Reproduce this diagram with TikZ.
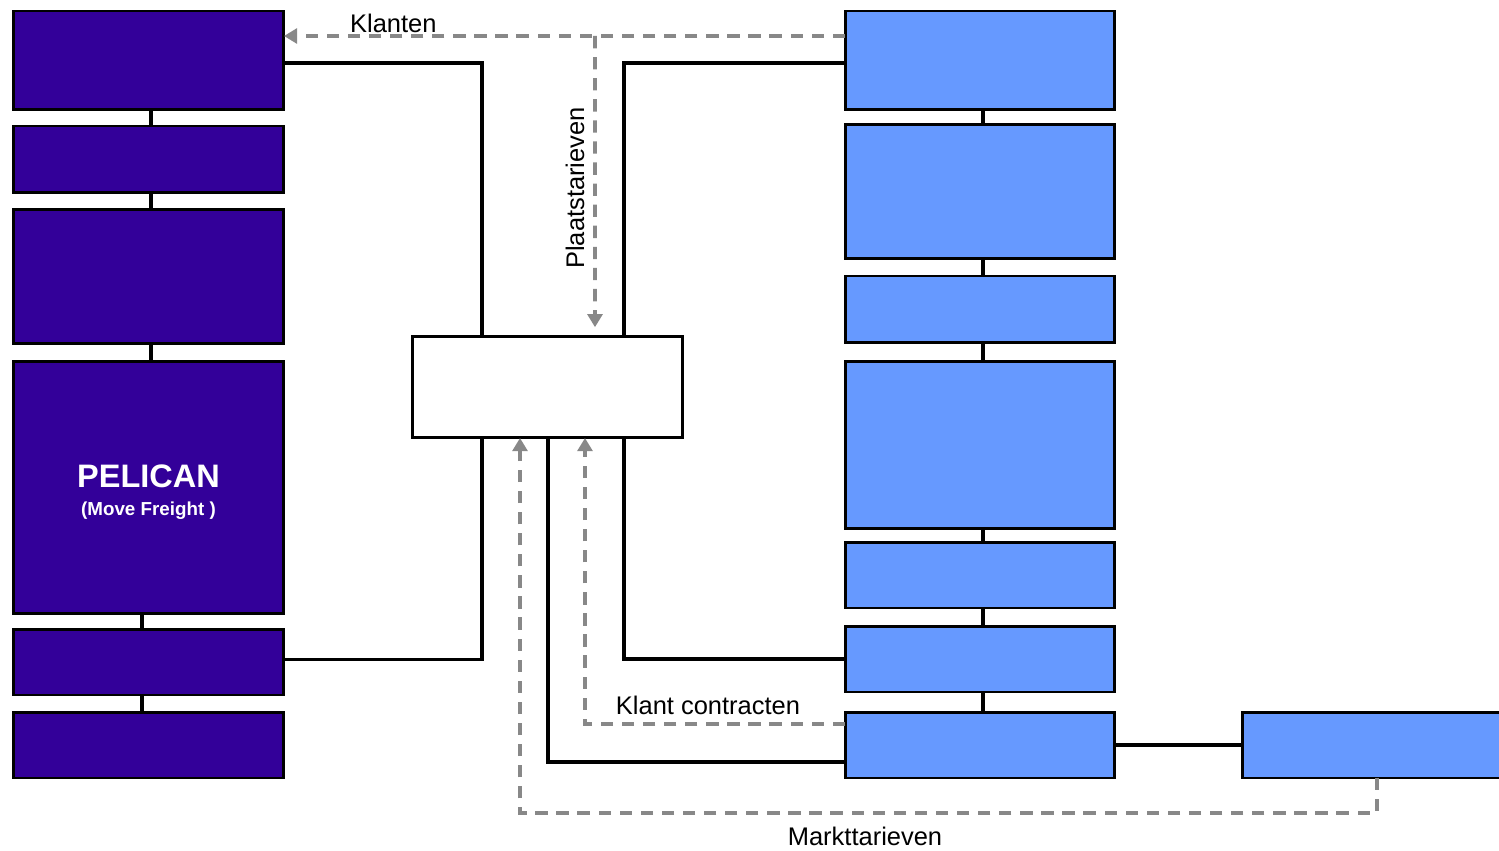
\documentclass[tikz,border=0pt]{standalone}
\usepackage{fontspec}
\setmainfont{Liberation Sans}
\usepackage{xcolor}
\usepackage{tikz}
\usetikzlibrary{shapes}
\usetikzlibrary{arrows.meta}
\definecolor{pelican}{HTML}{330099}
\definecolor{sysblue}{HTML}{6699FF}
\definecolor{flowgray}{HTML}{888888}
\tikzset{pbox/.style={draw=black, line width=1.7pt, fill=pelican, minimum width=5.42cm, inner sep=0pt, outer sep=0pt, text=white, font=\bfseries}}
\tikzset{sbox/.style={draw=black, line width=1.7pt, fill=sysblue, minimum width=5.4cm, inner sep=0pt, outer sep=0pt}}
\tikzset{link/.style={draw=black, line width=2pt}}
\tikzset{flow/.style={draw=flowgray, line width=2pt, dash pattern=on 7pt off 5pt, -{Triangle[length=7.5pt,width=8.5pt]}}}
\tikzset{lbl/.style={font=\fontsize{14.5}{16}\selectfont, inner sep=1pt}}

\begin{document}
\begin{tikzpicture}[x=0.02cm, y=-0.02cm]
\useasboundingbox (0,0) rectangle (1499,851);
 \node[pbox, minimum height=1.98cm] (L1) at (148.5, 60.5) {};
 \node[pbox, minimum height=1.34cm] (L2) at (148.5, 159.5) {};
 \node[pbox, minimum height=2.7cm] (L3) at (148.5, 276.5) {};
 \node[pbox, minimum height=5.06cm, align=center] (L4) at (148.5, 487.5) {{\fontsize{18.5}{22}\selectfont\rule{0pt}{18pt}PELICAN}\\[4pt]{\fontsize{10.7}{13}\selectfont (Move Freight )}};
 \node[pbox, minimum height=1.32cm] (L5) at (148.5, 662) {};
 \node[pbox, minimum height=1.32cm] (L6) at (148.5, 745) {};
  \node[draw=black, line width=1.7pt, fill=white, minimum width=5.42cm, minimum height=2.04cm, inner sep=0pt, outer sep=0pt] (mid) at (547.5, 387) {};
 \node[sbox, minimum height=1.98cm] (R1) at (980, 60.5) {};
 \node[sbox, minimum height=2.7cm] (R2) at (980, 191.5) {};
 \node[sbox, minimum height=1.34cm] (R3) at (980, 309.5) {};
 \node[sbox, minimum height=3.36cm] (R4) at (980, 445) {};
 \node[sbox, minimum height=1.32cm] (R5) at (980, 575) {};
 \node[sbox, minimum height=1.32cm] (R6) at (980, 659) {};
 \node[sbox, minimum height=1.32cm] (R7) at (980, 745) {};
 \node[sbox, minimum height=1.32cm] (R8) at (1377, 745) {};
  \draw[link] ([xshift=0.05cm]L1.south) -- ([xshift=0.05cm]L2.north);
  \draw[link] ([xshift=0.05cm]L2.south) -- ([xshift=0.05cm]L3.north);
  \draw[link] ([xshift=0.05cm]L3.south) -- ([xshift=0.05cm]L4.north);
  \draw[link] ([xshift=-0.13cm]L4.south) -- ([xshift=-0.13cm]L5.north);
  \draw[link] ([xshift=-0.13cm]L5.south) -- ([xshift=-0.13cm]L6.north);
  \draw[link] ([xshift=0.06cm]R1.south) -- ([xshift=0.06cm]R2.north);
  \draw[link] ([xshift=0.06cm]R2.south) -- ([xshift=0.06cm]R3.north);
  \draw[link] ([xshift=0.06cm]R3.south) -- ([xshift=0.06cm]R4.north);
  \draw[link] ([xshift=0.06cm]R4.south) -- ([xshift=0.06cm]R5.north);
  \draw[link] ([xshift=0.06cm]R5.south) -- ([xshift=0.06cm]R6.north);
  \draw[link] ([xshift=0.06cm]R6.south) -- ([xshift=0.06cm]R7.north);
  \draw[link] (R7.east) -- (R8.west);
  \draw[link] ([yshift=-0.05cm]L1.east) -| ([xshift=-1.31cm]mid.north);
  \draw[link] ([yshift=0.05cm]L5.east) -| ([xshift=-1.31cm]mid.south);
  \draw[link] ([yshift=-0.05cm]R1.west) -| ([xshift=1.53cm]mid.north);
  \draw[link] (R6.west) -| ([xshift=1.53cm]mid.south);
  \draw[link] ([yshift=-0.34cm]R7.west) -| ([xshift=0.01cm]mid.south);
 \coordinate (plaatsTop) at (595, 36);
  \draw[flow] ([yshift=0.49cm]R1.west) -- ([yshift=0.49cm]L1.east) node[lbl, pos=0.805, above] (klanten) {Klanten};
  \draw[flow, shorten >=5pt] (plaatsTop) -- ([xshift=0.95cm]mid.north);
 \node[lbl, rotate=90] (plaats) at (575, 188) {Plaatstarieven};
  \draw[flow] ([yshift=0.42cm]R7.west) -| ([xshift=0.75cm]mid.south);
 \node[lbl] (contract) at (708, 705) {Klant contracten};
  \draw[flow] (R8.south) -- ++(0, 35) -| ([xshift=-0.55cm]mid.south);
 \node[lbl] (markt) at (865, 836) {Markttarieven};
\end{tikzpicture}
\end{document}
